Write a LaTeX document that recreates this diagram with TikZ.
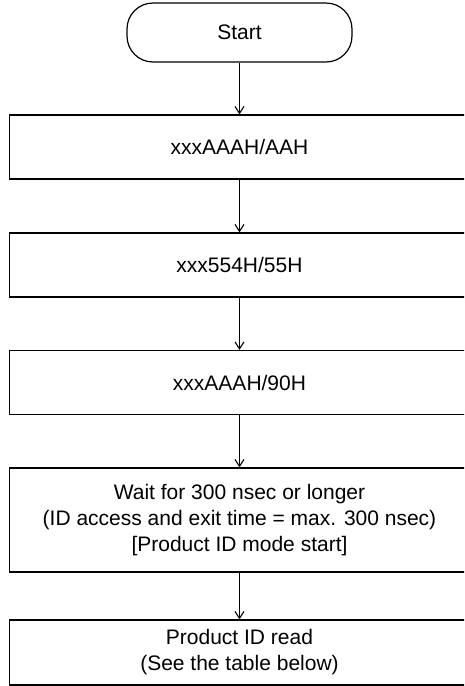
\documentclass[tikz,border=0pt]{standalone}
\usepackage{fontspec}
\setmainfont{Liberation Sans}
\usetikzlibrary{arrows.meta}
\tikzset{
    stepbox/.style={draw, line width=1.2pt, minimum width=460pt, align=center,
        font=\fontsize{21}{26}\selectfont, inner sep=0pt},
    startbox/.style={stepbox, minimum width=225pt, minimum height=59pt, rounded corners=26pt},
    flow/.style={line width=1.1pt, -{Straight Barb[length=7pt,width=9pt]}}
}
\begin{document}
\begin{tikzpicture}[x=1pt, y=-1pt]
    \useasboundingbox (0,0) rectangle (464,686);
    \clip (0,0) rectangle (464,686);
    \node[startbox] (start) at (239.5,32.5) {Start};
    \node[stepbox, minimum height=64pt] (cmda) at (239.5,147) {xxxAAAH/AAH};
    \node[stepbox, minimum height=64pt] (cmdb) at (239.5,265) {xxx554H/55H};
    \node[stepbox, minimum height=64pt] (cmdc) at (239.5,382.5) {xxxAAAH/90H};
    \node[stepbox, minimum height=104pt] (wait) at (239.5,520)
        {Wait for 300 nsec or longer\\(ID access and exit time = max. 300 nsec)\\{[Product ID mode start]}};
    \node[stepbox, minimum height=65pt] (read) at (239.5,652.5)
        {Product ID read\\(See the table below)};
    \draw[flow] (start) -- (cmda);
    \draw[flow] (cmda) -- (cmdb);
    \draw[flow] (cmdb) -- (cmdc);
    \draw[flow] (cmdc) -- (wait);
    \draw[flow] (wait) -- (read);
\end{tikzpicture}
\end{document}
